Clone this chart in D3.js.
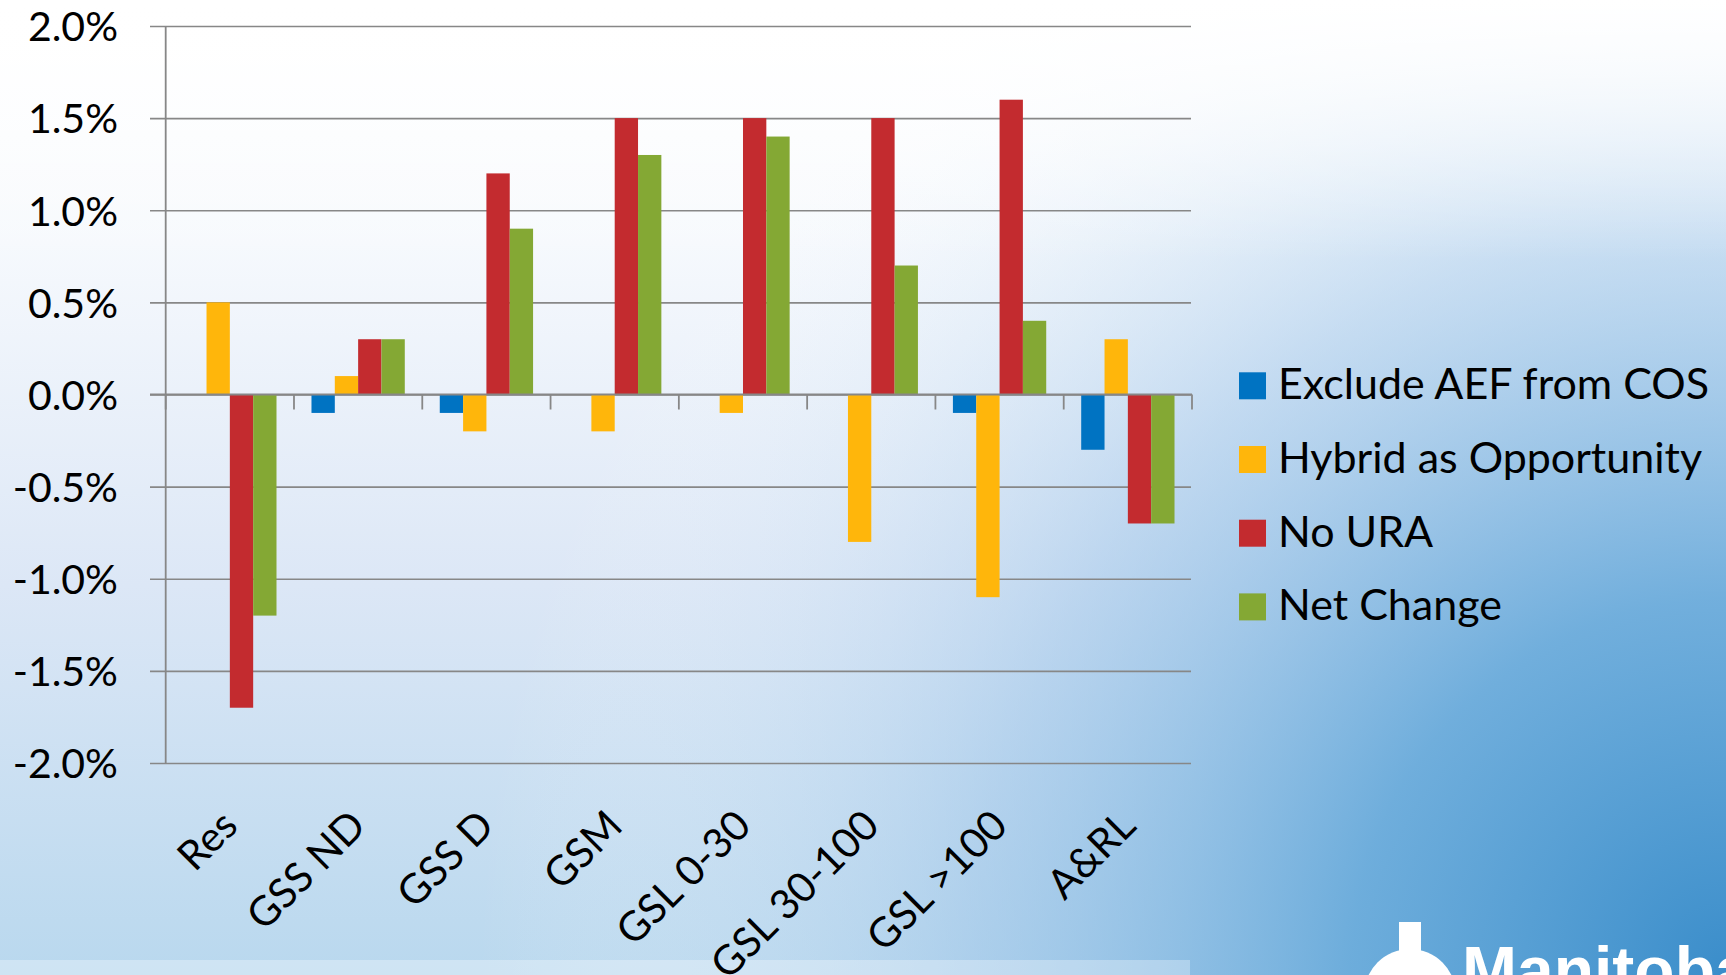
<!DOCTYPE html>
<html>
<head>
<meta charset="utf-8">
<script src="https://cdn.jsdelivr.net/npm/d3@7"></script>
<style>
  html, body { margin:0; padding:0; overflow:hidden; }
  text { font-family: Lato, "Open Sans", sans-serif; }
</style>
</head>
<body>
<div id="chart"></div>
<script>
// data (percent)
var categories = ["Res", "GSS ND", "GSS D", "GSM", "GSL 0-30", "GSL 30-100", "GSL >100", "A&RL"];
var seriesNames = ["Exclude AEF from COS", "Hybrid as Opportunity", "No URA", "Net Change"];
var excludeAEF = [0, -0.1, -0.1, 0, 0, 0, -0.1, -0.3];
var hybridOpp  = [0.5, 0.1, -0.2, -0.2, -0.1, -0.8, -1.1, 0.3];
var noURA      = [-1.7, 0.3, 1.2, 1.5, 1.5, 1.5, 1.6, -0.7];
var netChange  = [-1.2, 0.3, 0.9, 1.3, 1.4, 0.7, 0.4, -0.7];
var yTicks = [-2, -1.5, -1, -0.5, 0, 0.5, 1, 1.5, 2];
var colors = ["#0073c2", "#ffb60b", "#c32b2f", "#84a834"];

var W = 1726, H = 975;
var seriesVals = [excludeAEF, hybridOpp, noURA, netChange];

var svg = d3.select("#chart").append("svg")
    .attr("width", W).attr("height", H);

// slide background
var defs = svg.append("defs");
var bg1 = defs.append("linearGradient").attr("id", "bgv")
    .attr("x1", 0).attr("y1", 0).attr("x2", 0).attr("y2", 1);
bg1.append("stop").attr("offset", 0).attr("stop-color", "#ffffff");
bg1.append("stop").attr("offset", 0.25).attr("stop-color", "#f6f9fd");
bg1.append("stop").attr("offset", 0.6).attr("stop-color", "#dce7f6");
bg1.append("stop").attr("offset", 1).attr("stop-color", "#b9d8ee");

var bg2 = defs.append("radialGradient").attr("id", "bgr")
    .attr("gradientUnits", "userSpaceOnUse")
    .attr("cx", 1726).attr("cy", 975).attr("r", 1250);
bg2.append("stop").attr("offset", 0).attr("stop-color", "#3a8dca").attr("stop-opacity", 1);
bg2.append("stop").attr("offset", 0.3).attr("stop-color", "#5fa5d8").attr("stop-opacity", 0.85);
bg2.append("stop").attr("offset", 0.6).attr("stop-color", "#9cc4e8").attr("stop-opacity", 0.5);
bg2.append("stop").attr("offset", 1).attr("stop-color", "#ffffff").attr("stop-opacity", 0);

var bg3 = defs.append("linearGradient").attr("id", "bgtop")
    .attr("gradientUnits", "userSpaceOnUse")
    .attr("x1", 0).attr("y1", 0).attr("x2", 0).attr("y2", 260);
bg3.append("stop").attr("offset", 0).attr("stop-color", "#ffffff").attr("stop-opacity", 1);
bg3.append("stop").attr("offset", 1).attr("stop-color", "#ffffff").attr("stop-opacity", 0);

svg.append("rect").attr("width", W).attr("height", H).attr("fill", "url(#bgv)");
svg.append("rect").attr("width", W).attr("height", H).attr("fill", "url(#bgr)");
svg.append("rect").attr("width", W).attr("height", 260).attr("fill", "url(#bgtop)");
svg.append("rect").attr("x", 0).attr("y", 960).attr("width", 1190).attr("height", 15)
    .attr("fill", "#ffffff").attr("opacity", 0.3);

// scales
var x0 = d3.scaleBand().domain(categories).range([165.7, 1192]).padding(0);
var step = x0.step();
var barW = step / 5.5;
var x1 = d3.scaleBand().domain(seriesNames)
    .range([barW * 0.75, barW * 4.75]).padding(0);
var y = d3.scaleLinear().domain([-2, 2]).range([763, 26]);

var axisColor = "#878787";

// gridlines + y labels
var yAxis = d3.axisLeft(y).tickValues(yTicks)
    .tickSize(-(1191 - 150))
    .tickFormat(function(d) { return d.toFixed(1) + "%"; });
var gy = svg.append("g")
    .attr("transform", "translate(150,0)")
    .call(yAxis);
gy.select(".domain").remove();
gy.selectAll(".tick line").attr("stroke", axisColor).attr("stroke-width", 1.6);
gy.selectAll(".tick text")
    .attr("x", -32).attr("dy", "0.36em")
    .attr("font-size", 41).attr("fill", "#000")
    .style("font-family", "Lato, sans-serif");

// bars
var groups = svg.append("g").selectAll("g")
    .data(categories)
    .enter().append("g")
    .attr("transform", function(d) { return "translate(" + x0(d) + ",0)"; });

groups.selectAll("rect")
    .data(function(d, i) {
        return seriesNames.map(function(s, j) { return { key: s, value: seriesVals[j][i], idx: j }; });
    })
    .enter().append("rect")
    .attr("x", function(d) { return x1(d.key); })
    .attr("width", x1.bandwidth())
    .attr("y", function(d) { return y(Math.max(0, d.value)); })
    .attr("height", function(d) { return Math.abs(y(d.value) - y(0)); })
    .attr("fill", function(d) { return colors[d.idx]; });

// vertical axis line
svg.append("line")
    .attr("x1", 165.7).attr("x2", 165.7)
    .attr("y1", y(2)).attr("y2", y(-2))
    .attr("stroke", axisColor).attr("stroke-width", 1.8);

// category axis at zero
var xAxis = d3.axisBottom(x0).tickSize(0).tickFormat("");
var gx = svg.append("g")
    .attr("transform", "translate(0," + y(0) + ")")
    .call(xAxis);
gx.select(".domain").attr("stroke", axisColor).attr("stroke-width", 1.8)
    .attr("d", "M150,0H1192");

// tick marks between categories
var bounds = categories.map(function(c) { return x0(c); }).concat([x0.range()[1]]);
svg.append("g").selectAll("line")
    .data(bounds)
    .enter().append("line")
    .attr("x1", function(d) { return d; }).attr("x2", function(d) { return d; })
    .attr("y1", y(0)).attr("y2", y(0) + 15)
    .attr("stroke", axisColor).attr("stroke-width", 1.8);

// rotated category labels
svg.append("g").selectAll("text")
    .data(categories)
    .enter().append("text")
    .attr("transform", function(d) {
        return "translate(" + (x0(d) + step / 2 + 10) + ",828) rotate(-45)";
    })
    .attr("text-anchor", "end")
    .attr("font-size", 41)
    .attr("fill", "#000")
    .text(function(d) { return d; });

// legend
var legend = svg.append("g").selectAll("g")
    .data(seriesNames)
    .enter().append("g")
    .attr("transform", function(d, i) { return "translate(1239," + (372.3 + i * 73.7) + ")"; });
legend.append("rect")
    .attr("width", 27).attr("height", 27)
    .attr("fill", function(d, i) { return colors[i]; });
legend.append("text")
    .attr("x", 39).attr("y", 27)
    .attr("font-size", 43)
    .attr("fill", "#000")
    .text(function(d) { return d; });

// logo corner
var logo = svg.append("g").attr("fill", "#ffffff");
logo.append("circle").attr("cx", 1410).attr("cy", 995).attr("r", 46);
logo.append("rect").attr("x", 1399).attr("y", 922).attr("width", 22).attr("height", 60);
logo.append("text")
    .attr("x", 1462).attr("y", 993)
    .attr("font-size", 66).attr("font-weight", "bold")
    .style("font-family", "'Liberation Sans', Arial, sans-serif")
    .text("Manitoba");
</script>
</body>
</html>
